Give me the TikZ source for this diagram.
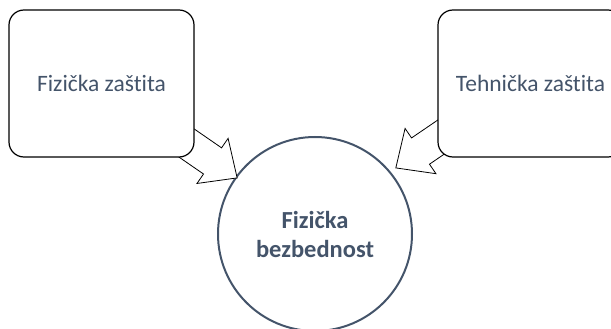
\documentclass[tikz,border=0pt]{standalone}
\usepackage{fontspec}
\setmainfont{Carlito}[Ligatures=NoCommon]
\usetikzlibrary{shapes.arrows}

\definecolor{slate}{HTML}{44546A}
\tikzset{
  box/.style={draw=black, line width=1.2pt, rounded corners=15pt, fill=white,
    minimum width=185pt, minimum height=147pt, text=slate,
    font=\fontsize{23.5}{28}\selectfont},
  blockarrow/.style={draw=black, line width=0.8pt, fill=white, single arrow,
    single arrow head extend=11.5pt, single arrow tip angle=85,
    inner xsep=0pt, inner ysep=15.5pt, minimum height=70pt},
  hub/.style={circle, draw=slate, line width=2pt, minimum size=194pt,
    text=slate, align=center, font=\fontsize{24.5}{29}\selectfont\bfseries}
}

\begin{document}
\begin{tikzpicture}[x=1pt, y=-1pt]
\useasboundingbox (0,0) rectangle (611,329);
\node[hub] (sec) at (315,234) {Fizička\\bezbednost};
\node[blockarrow, rotate=-34.6] (arrL) at (201.2,153.1) {};
\node[blockarrow, rotate=214.3] (arrR) at (431.9,143.3) {};
\node[box] (phys) at (101.5,83.5) {Fizička zaštita};
\node[box] (tech) at (530.5,83.5) {Tehnička zaštita};
\end{tikzpicture}
\end{document}
